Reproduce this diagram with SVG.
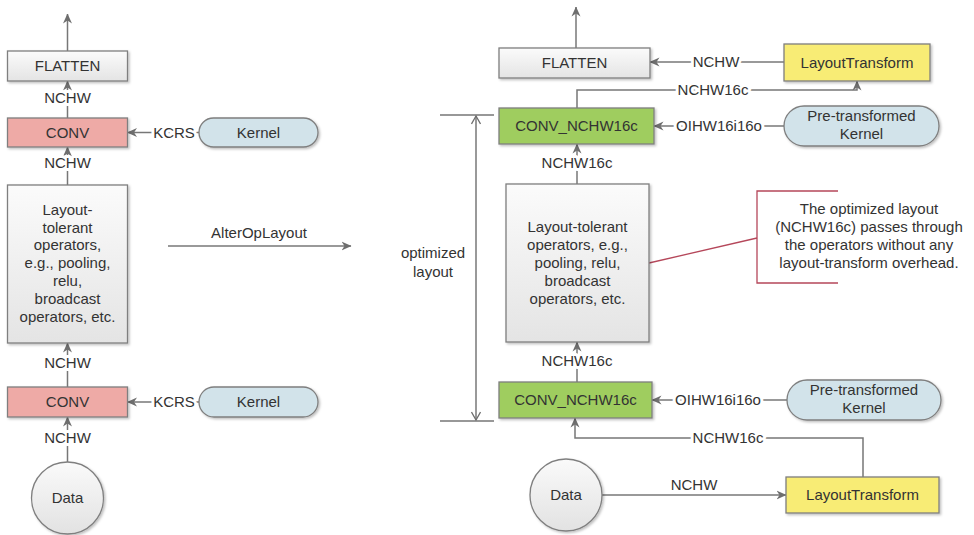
<svg xmlns="http://www.w3.org/2000/svg" width="974" height="535" viewBox="0 0 974 535">
<defs>
  <linearGradient id="gGrey" x1="0" y1="0" x2="0" y2="1">
    <stop offset="0" stop-color="#fbfbfb"/>
    <stop offset="1" stop-color="#e4e4e4"/>
  </linearGradient>
  <linearGradient id="gCircle" x1="0" y1="0" x2="0" y2="1">
    <stop offset="0" stop-color="#fafafa"/>
    <stop offset="1" stop-color="#e2e2e2"/>
  </linearGradient>
  <filter id="shadow" x="-10%" y="-10%" width="125%" height="130%">
    <feDropShadow dx="1.5" dy="1.5" stdDeviation="1" flood-color="#000" flood-opacity="0.25"/>
  </filter>
  <marker id="arr" viewBox="0 0 10 10" markerWidth="10" markerHeight="10" refX="9.5" refY="5" orient="auto" markerUnits="userSpaceOnUse">
    <path d="M0,0.5 L10,5 L0,9.5 L3,5 Z" fill="#6e6e6e"/>
  </marker>
  <marker id="open" viewBox="0 0 10 10" markerWidth="10" markerHeight="10" refX="9" refY="5" orient="auto-start-reverse" markerUnits="userSpaceOnUse">
    <path d="M1,0.5 L9,5 L1,9.5" fill="none" stroke="#6e6e6e" stroke-width="1.3"/>
  </marker>
</defs>
<style>
  text { font-family: "Liberation Sans", Arial, sans-serif; font-size: 15px; fill: #333; text-anchor: middle; }
  .box { stroke: #7f7f7f; stroke-width: 1.3; filter: url(#shadow); }
  .grey { fill: url(#gGrey); }
  .pink { fill: #eeaaa6; }
  .green { fill: #9fcd5f; }
  .yellow { fill: #f8ec74; }
  .blue { fill: #d2e3ea; }
  .conn { fill: none; stroke: #777; stroke-width: 1.5; }
  .lbl { stroke: #fff; stroke-width: 6; paint-order: stroke; stroke-linejoin: round; }
  .note { fill: none; stroke: #b5475a; stroke-width: 1.3; }
</style>

<!-- Connectors -->
<g id="connectors">
  <!-- left -->
  <path class="conn" d="M67.5,51 V14" marker-end="url(#arr)"/>
  <path class="conn" d="M67.5,118 V81" marker-end="url(#arr)"/>
  <text class="lbl" x="67.5" y="103">NCHW</text>
  <path class="conn" d="M199,132.5 H127.5" marker-end="url(#arr)"/>
  <text class="lbl" x="174" y="137.5">KCRS</text>
  <path class="conn" d="M67.5,185 V147" marker-end="url(#arr)"/>
  <text class="lbl" x="67.5" y="168">NCHW</text>
  <path class="conn" d="M67.5,387 V343" marker-end="url(#arr)"/>
  <text class="lbl" x="67.5" y="368">NCHW</text>
  <path class="conn" d="M199,402 H127.5" marker-end="url(#arr)"/>
  <text class="lbl" x="174" y="407">KCRS</text>
  <path class="conn" d="M67.5,462 V417" marker-end="url(#arr)"/>
  <text class="lbl" x="67.5" y="443">NCHW</text>

  <!-- transformation arrow -->
  <path class="conn" d="M168,246 H351" marker-end="url(#arr)"/>
  <text x="259" y="238">AlterOpLayout</text>

  <!-- right -->
  <path class="conn" d="M576,48 V7" marker-end="url(#arr)"/>
  <path class="conn" d="M784,62 H650" marker-end="url(#arr)"/>
  <text class="lbl" x="716" y="67">NCHW</text>
  <path class="conn" d="M577,108 V90 H857 V81" marker-end="url(#arr)"/>
  <text class="lbl" x="713" y="95">NCHW16c</text>
  <path class="conn" d="M784,126 H654" marker-end="url(#arr)"/>
  <text class="lbl" x="719" y="131">OIHW16i16o</text>
  <path class="conn" d="M577,184 V144" marker-end="url(#arr)"/>
  <text class="lbl" x="577" y="168">NCHW16c</text>
  <path class="conn" d="M577,382 V342" marker-end="url(#arr)"/>
  <text class="lbl" x="577" y="366">NCHW16c</text>
  <path class="conn" d="M787,400 H652" marker-end="url(#arr)"/>
  <text class="lbl" x="718" y="405">OIHW16i16o</text>
  <path class="conn" d="M863,477 V438 H575 V418" marker-end="url(#arr)"/>
  <text class="lbl" x="728" y="443">NCHW16c</text>
  <path class="conn" d="M602,495 H786" marker-end="url(#arr)"/>
  <text x="694" y="490">NCHW</text>

  <!-- optimized layout dimension -->
  <path class="conn" d="M440,115 H494 M440,421 H494"/>
  <path class="conn" d="M476,116 V420" marker-start="url(#open)" marker-end="url(#open)"/>
  <text x="433" y="258">optimized</text>
  <text x="433" y="277">layout</text>

  <!-- annotation -->
  <path class="note" d="M649,263 L757,238"/>
  <path class="note" d="M838,191 H757 V283 H838"/>
</g>

<!-- Left nodes -->
<g id="flatten-left">
  <rect class="box grey" x="7.5" y="51" width="120" height="30"/>
  <text x="67.5" y="71">FLATTEN</text>
</g>
<g id="conv-left-top">
  <rect class="box pink" x="7.5" y="118" width="120" height="29"/>
  <text x="67.5" y="137.5">CONV</text>
</g>
<g id="kernel-left-top">
  <rect class="box blue" x="199" y="118" width="119" height="29" rx="14.5"/>
  <text x="258.5" y="137.5">Kernel</text>
</g>
<g id="tolerant-left">
  <rect class="box grey" x="7.5" y="185" width="120" height="158"/>
  <text x="67.5" y="215">Layout-</text>
  <text x="67.5" y="232.5">tolerant</text>
  <text x="67.5" y="250">operators,</text>
  <text x="67.5" y="268">e.g., pooling,</text>
  <text x="67.5" y="285.5">relu,</text>
  <text x="67.5" y="303.5">broadcast</text>
  <text x="67.5" y="321.5">operators, etc.</text>
</g>
<g id="conv-left-bottom">
  <rect class="box pink" x="7.5" y="387" width="120" height="30"/>
  <text x="67.5" y="407">CONV</text>
</g>
<g id="kernel-left-bottom">
  <rect class="box blue" x="199" y="387" width="119" height="30" rx="15"/>
  <text x="258.5" y="407">Kernel</text>
</g>
<g id="data-left">
  <circle class="box" cx="67.5" cy="498" r="36" fill="url(#gCircle)"/>
  <text x="67.5" y="503">Data</text>
</g>

<!-- Right nodes -->
<g id="flatten-right">
  <rect class="box grey" x="499" y="48" width="151" height="30"/>
  <text x="574.5" y="68">FLATTEN</text>
</g>
<g id="layouttransform-top">
  <rect class="box yellow" x="784" y="44" width="146" height="37"/>
  <text x="857" y="67.5">LayoutTransform</text>
</g>
<g id="conv-nchw16c-top">
  <rect class="box green" x="499" y="108" width="155" height="36"/>
  <text x="576.5" y="131">CONV_NCHW16c</text>
</g>
<g id="pretransformed-top">
  <rect class="box blue" x="784" y="106" width="155" height="40" rx="20"/>
  <text x="861.5" y="121">Pre-transformed</text>
  <text x="861.5" y="138.5">Kernel</text>
</g>
<g id="tolerant-right">
  <rect class="box grey" x="506" y="184" width="143" height="158"/>
  <text x="577.5" y="232">Layout-tolerant</text>
  <text x="577.5" y="250">operators, e.g.,</text>
  <text x="577.5" y="268">pooling, relu,</text>
  <text x="577.5" y="286">broadcast</text>
  <text x="577.5" y="303.5">operators, etc.</text>
</g>
<g id="conv-nchw16c-bottom">
  <rect class="box green" x="499" y="382" width="153" height="36"/>
  <text x="575.5" y="405">CONV_NCHW16c</text>
</g>
<g id="pretransformed-bottom">
  <rect class="box blue" x="787" y="380" width="154" height="40" rx="20"/>
  <text x="864" y="395">Pre-transformed</text>
  <text x="864" y="412.5">Kernel</text>
</g>
<g id="layouttransform-bottom">
  <rect class="box yellow" x="786" y="477" width="153" height="36"/>
  <text x="862.5" y="500">LayoutTransform</text>
</g>
<g id="data-right">
  <circle class="box" cx="566" cy="495" r="36" fill="url(#gCircle)"/>
  <text x="566" y="500">Data</text>
</g>
<g id="annotation">
  <text x="869" y="214">The optimized layout</text>
  <text x="869" y="232">(NCHW16c) passes through</text>
  <text x="869" y="250">the operators without any</text>
  <text x="869" y="268">layout-transform overhead.</text>
</g>
</svg>
